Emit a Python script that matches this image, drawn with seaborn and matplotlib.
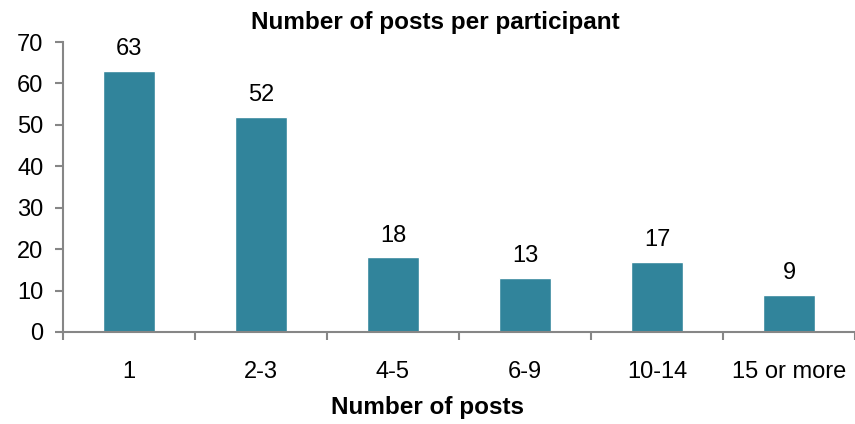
import seaborn as sns
import pandas as pd
import matplotlib.pyplot as plt
import numpy as np

# chart data
categories = ['1', '2-3', '4-5', '6-9', '10-14', '15 or more']
post_counts = [63, 52, 18, 13, 17, 9]

BAR_COLOUR = '#31849B'
AXIS_COLOUR = '#868686'

sns.set_theme(style='white')
plt.rcParams['font.family'] = ['Liberation Sans', 'DejaVu Sans']
plt.rcParams['text.color'] = 'black'
plt.rcParams['xtick.labelcolor'] = 'black'
plt.rcParams['ytick.labelcolor'] = 'black'

df = pd.DataFrame({'posts': categories, 'participants': post_counts})

fig = plt.figure(figsize=(8.55, 4.24), dpi=100)
ax = fig.add_axes([63 / 855, 92 / 424, 1 - 63 / 855, 290 / 424])

sns.barplot(data=df, x='posts', y='participants', color=BAR_COLOUR,
            width=0.4, saturation=1, ax=ax)

# value labels above bars
for i, v in enumerate(post_counts):
    ax.text(i, v + 2.6, str(v), ha='center', va='bottom', fontsize=17, color='black')

ax.set_ylim(0, 70)
ax.set_xlim(-0.5, len(categories) - 0.5)
ax.set_yticks(range(0, 71, 10))
ax.set_xlabel('')
ax.set_ylabel('')

# category labels centred, tick marks between categories
ax.set_xticks(np.arange(len(categories)))
ax.set_xticklabels(categories, fontsize=17)
ax.set_xticks(np.arange(-0.5, len(categories) + 0.5, 1), minor=True)
ax.tick_params(axis='x', which='major', length=0, pad=21)
ax.tick_params(axis='x', which='minor', length=6, width=1.5, color=AXIS_COLOUR,
               direction='out', bottom=True)
ax.tick_params(axis='y', labelsize=17, length=6, width=1.5, color=AXIS_COLOUR,
               direction='out', left=True, pad=8)

for side in ['top', 'right']:
    ax.spines[side].set_visible(False)
for side in ['left', 'bottom']:
    ax.spines[side].set_color(AXIS_COLOUR)
    ax.spines[side].set_linewidth(1.5)

fig.text(0.509, 0.948, 'Number of posts per participant', ha='center', va='center',
         fontsize=17.5, fontweight='bold')
fig.text(0.5, 0.04, 'Number of posts', ha='center', va='center',
         fontsize=17.5, fontweight='bold')

fig.savefig('out.png', dpi=100)
